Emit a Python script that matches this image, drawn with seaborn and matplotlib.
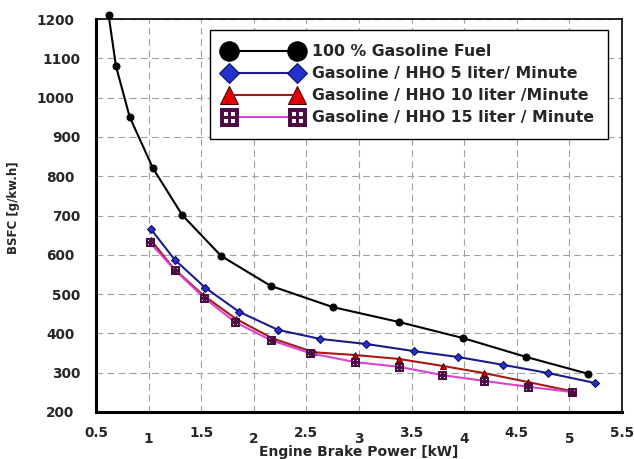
import numpy as np
import pandas as pd
import matplotlib
matplotlib.use("Agg")
import matplotlib.pyplot as plt
import seaborn as sns

# -------------------------------
# Data
# -------------------------------
power_gas = [0.62, 0.69, 0.82, 1.04, 1.32, 1.69, 2.16, 2.75, 3.38, 3.99, 4.59, 5.18]
bsfc_gas = [1210, 1080, 951, 821, 701, 597, 521, 467, 429, 388, 340, 297]

power_hho5 = [1.02, 1.25, 1.54, 1.86, 2.23, 2.63, 3.07, 3.52, 3.94, 4.37, 4.80, 5.24]
bsfc_hho5 = [666, 587, 516, 455, 409, 386, 373, 355, 340, 320, 299, 274]

power_hho10 = [1.02, 1.24, 1.52, 1.83, 2.18, 2.57, 2.96, 3.38, 3.80, 4.19, 4.61, 5.02]
bsfc_hho10 = [638, 565, 497, 437, 387, 352, 345, 335, 317, 299, 276, 253]

power_hho15 = [1.01, 1.25, 1.53, 1.82, 2.16, 2.53, 2.96, 3.38, 3.79, 4.19, 4.61, 5.02]
bsfc_hho15 = [632, 561, 490, 429, 383, 350, 327, 315, 294, 279, 264, 251]

labels = ["100 % Gasoline Fuel",
          "Gasoline / HHO 5 liter/ Minute",
          "Gasoline / HHO 10 liter /Minute",
          "Gasoline / HHO 15 liter / Minute"]

x_major = [1, 2, 3, 4, 5]
x_minor = [0.5, 1.5, 2.5, 3.5, 4.5, 5.5]
y_major = [200, 400, 600, 800, 1000, 1200]
y_minor = [300, 500, 700, 900, 1100]

# -------------------------------
# Style
# -------------------------------
sns.set_style("white")
plt.rcParams['font.family'] = ['DejaVu Sans']
plt.rcParams['font.weight'] = 'bold'

fig = plt.figure(figsize=(6.34, 4.59), dpi=100)
ax = fig.add_axes([0.1514, 0.1024, 0.8297, 0.8562])

series = [
    (power_gas, bsfc_gas, dict(color="black", marker="o", markersize=5,
                               markerfacecolor="black", markeredgecolor="black")),
    (power_hho5, bsfc_hho5, dict(color="#1c1c8a", marker="D", markersize=4,
                                 markerfacecolor="#2233cc", markeredgecolor="#0a0a60")),
    (power_hho10, bsfc_hho10, dict(color="#a81818", marker="^", markersize=5,
                                   markerfacecolor="#dd0000", markeredgecolor="#500000")),
    (power_hho15, bsfc_hho15, dict(color="#d844d0", marker="$\\boxplus$", markersize=5.5,
                                   markerfacecolor="#4a0c44", markeredgecolor="#4a0c44")),
]
legend_ms = [14, 10.5, 13, 13]

for (xs, ys, kw), lab in zip(series, labels):
    df = pd.DataFrame({"x": xs, "y": ys})
    sns.lineplot(data=df, x="x", y="y", ax=ax, label=lab, linewidth=1.5,
                 clip_on=False, zorder=3, **kw)

# -------------------------------
# Axes
# -------------------------------
ax.set_xlim(0.5, 5.5)
ax.set_ylim(200, 1200)

ax.set_xticks(x_major)
ax.set_xticklabels([f"{v:g}" for v in x_major])
ax.set_xticks(x_minor, minor=True)
ax.set_xticklabels([f"{v:g}" for v in x_minor], minor=True)
ax.set_yticks(y_major)
ax.set_yticklabels([str(v) for v in y_major])
ax.set_yticks(y_minor, minor=True)
ax.set_yticklabels([str(v) for v in y_minor], minor=True)

ax.tick_params(axis="x", which="major", direction="inout", length=20, width=2.2,
               pad=4.5, labelsize=9.8, color="black")
ax.tick_params(axis="x", which="minor", direction="inout", length=7, width=1.8,
               pad=6.5, labelsize=9.8, color="black")
ax.tick_params(axis="y", which="major", direction="inout", length=25, width=2,
               pad=3, labelsize=9.8, color="black")
ax.tick_params(axis="y", which="minor", direction="out", length=7, width=1.8,
               pad=4, labelsize=9.8, color="black")

ax.grid(True, which="both", linestyle=(0, (6, 4)), color="#a0a0a0", linewidth=0.8)

for s in ["left", "bottom"]:
    ax.spines[s].set_linewidth(2.2)
    ax.spines[s].set_color("black")
for s in ["top", "right"]:
    ax.spines[s].set_linewidth(1.2)
    ax.spines[s].set_color("black")
    ax.spines[s].set_visible(True)

ax.set_xlabel("Engine Brake Power [kW]", fontsize=10, fontweight="bold")
ax.set_ylabel("BSFC [g/kw.h]", fontsize=8.5, fontweight="bold")
ax.xaxis.set_label_coords(0.5, -0.085)
ax.yaxis.set_label_coords(-0.1445, 0.519)

leg = ax.legend(loc="upper right", bbox_to_anchor=(0.973, 0.972), borderaxespad=0,
                numpoints=2, handlelength=4.9, handletextpad=0.65, borderpad=0.9,
                labelspacing=0.45, fontsize=11.3, frameon=True, fancybox=False,
                edgecolor="black", framealpha=1)
leg.get_frame().set_linewidth(1.0)
for t in leg.get_texts():
    t.set_fontweight("bold")
for h, ms in zip(leg.legend_handles, legend_ms):
    h.set_markersize(ms)

plt.savefig("out.png", dpi=100)
